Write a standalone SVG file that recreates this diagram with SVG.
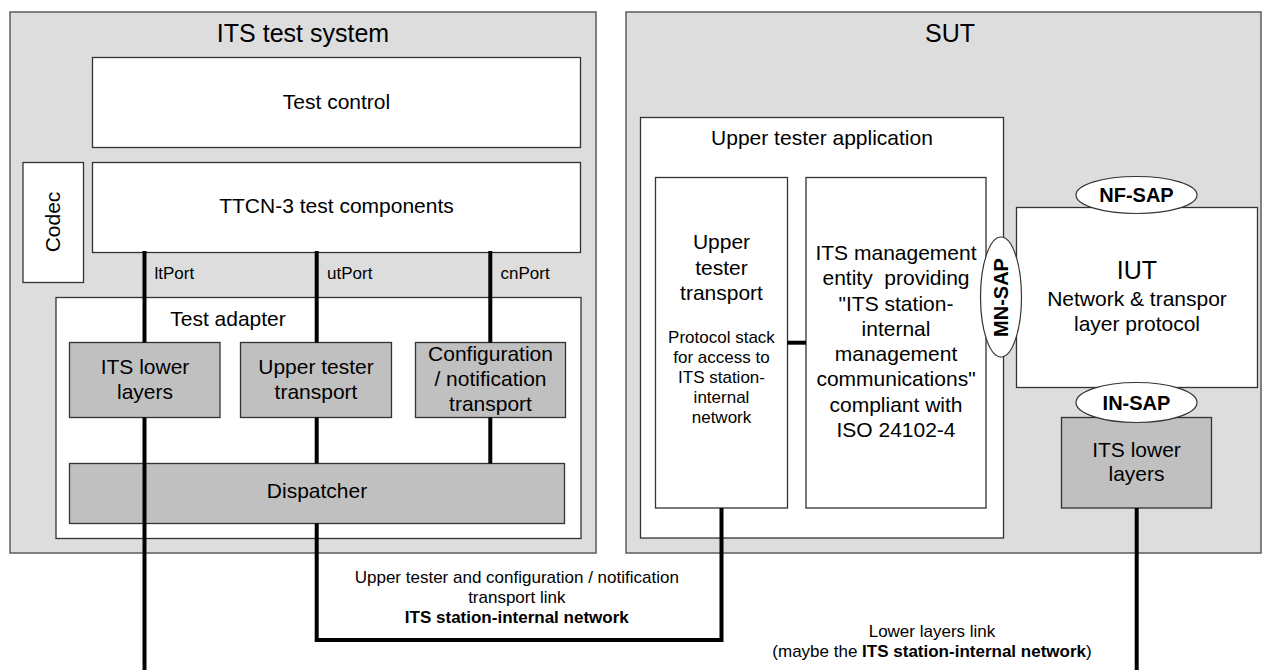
<svg xmlns="http://www.w3.org/2000/svg" width="1262" height="670" viewBox="0 0 1262 670">
<style>
text{font-family:"Liberation Sans",Arial,sans-serif;fill:#000}
.outer{fill:#dddddd;stroke:#666;stroke-width:1.6}
.white{fill:#fff;stroke:#333;stroke-width:1.3}
.grey{fill:#c0c0c0;stroke:#333;stroke-width:1.3}
.sap{fill:#fff;stroke:#333;stroke-width:1.2}
.c{text-anchor:middle}
.t25{font-size:25px}
.t21{font-size:21px}
.t17{font-size:17px}
.b{font-weight:bold}
.link{fill:none;stroke:#000;stroke-width:4;stroke-linecap:butt;stroke-linejoin:miter}
</style>
<rect width="1262" height="670" fill="#fff"/>

<g id="its-test-system">
<rect class="outer" x="10" y="12" width="586" height="541"/>
<text class="c t25" x="303" y="42">ITS test system</text>
</g>
<g id="sut">
<rect class="outer" x="626" y="12" width="635" height="541"/>
<text class="c t25" x="950" y="42">SUT</text>
</g>

<g id="test-control">
<rect class="white" x="92.5" y="57.5" width="488" height="90"/>
<text class="c t21" x="336.5" y="108.5">Test control</text>
</g>
<g id="ttcn3">
<rect class="white" x="92.5" y="162.5" width="488" height="90"/>
<text class="c t21" x="336.5" y="213">TTCN-3 test components</text>
</g>
<g id="codec">
<rect class="white" x="23" y="162.5" width="60.5" height="120"/>
<text class="c t21" transform="translate(60,222) rotate(-90)">Codec</text>
</g>
<g id="test-adapter">
<rect class="white" x="56" y="297.5" width="525" height="241"/>
<text class="c t21" x="228" y="326">Test adapter</text>
</g>
<g id="its-lower-layers-ts">
<rect class="grey" x="69.5" y="342.5" width="150.5" height="75"/>
<text class="c t21" x="145" y="374">ITS lower</text>
<text class="c t21" x="145" y="399">layers</text>
</g>
<g id="upper-tester-transport-ts">
<rect class="grey" x="240.5" y="342.5" width="151" height="75"/>
<text class="c t21" x="316" y="374">Upper tester</text>
<text class="c t21" x="316" y="399">transport</text>
</g>
<g id="config-notification-transport">
<rect class="grey" x="415.5" y="342.5" width="150" height="75"/>
<text class="c t21" x="490.5" y="361">Configuration</text>
<text class="c t21" x="490.5" y="386">/ notification</text>
<text class="c t21" x="490.5" y="411">transport</text>
</g>
<g id="dispatcher">
<rect class="grey" x="69.5" y="463.5" width="495" height="60"/>
<text class="c t21" x="317" y="498">Dispatcher</text>
</g>

<g id="upper-tester-application">
<rect class="white" x="640.5" y="117.5" width="363" height="420.5"/>
<text class="c t21" x="822" y="144.5">Upper tester application</text>
</g>
<g id="upper-tester-transport-sut">
<rect class="white" x="655.5" y="177.5" width="132" height="330.5"/>
<text class="c t21" x="721.5" y="249">Upper</text>
<text class="c t21" x="721.5" y="274.5">tester</text>
<text class="c t21" x="721.5" y="300">transport</text>
<text class="c t17" x="721.5" y="342.7">Protocol stack</text>
<text class="c t17" x="721.5" y="362.7">for access to</text>
<text class="c t17" x="721.5" y="382.7">ITS station-</text>
<text class="c t17" x="721.5" y="402.7">internal</text>
<text class="c t17" x="721.5" y="422.7">network</text>
</g>
<g id="its-management-entity">
<rect class="white" x="806" y="177.5" width="180" height="330.5"/>
<text class="c t21" x="896" y="260">ITS management</text>
<text class="c t21" x="896" y="285" style="white-space:pre">entity  providing</text>
<text class="c t21" x="896" y="310.5">"ITS station-</text>
<text class="c t21" x="896" y="335.7">internal</text>
<text class="c t21" x="896" y="360.7">management</text>
<text class="c t21" x="896" y="385.7">communications"</text>
<text class="c t21" x="896" y="411.5">compliant with</text>
<text class="c t21" x="896" y="436.7">ISO 24102-4</text>
</g>
<g id="iut">
<rect class="white" x="1016.5" y="207.5" width="241" height="180"/>
<text class="c t25" x="1137" y="279">IUT</text>
<text class="c t21" x="1137" y="305.7">Network &amp; transpor</text>
<text class="c t21" x="1137" y="331">layer protocol</text>
</g>
<g id="its-lower-layers-sut">
<rect class="grey" x="1061.5" y="417.5" width="150" height="90.5"/>
<text class="c t21" x="1136.5" y="457">ITS lower</text>
<text class="c t21" x="1136.5" y="481">layers</text>
</g>
<g id="nf-sap">
<ellipse class="sap" cx="1136.5" cy="195" rx="60.5" ry="18.5"/>
<text class="c b" font-size="20" x="1136.5" y="202">NF-SAP</text>
</g>
<g id="in-sap">
<ellipse class="sap" cx="1136.5" cy="402.5" rx="60.5" ry="20"/>
<text class="c b" font-size="20" x="1136.5" y="409.5">IN-SAP</text>
</g>
<g id="mn-sap">
<ellipse class="sap" cx="1001" cy="297" rx="20.5" ry="60"/>
<text class="c b" font-size="20" transform="translate(1008,297.5) rotate(-90)">MN-SAP</text>
</g>

<g id="connectors">
<line class="link" x1="144.5" y1="251" x2="144.5" y2="342.5"/>
<line class="link" x1="144.5" y1="417.5" x2="144.5" y2="670"/>
<line class="link" x1="316.7" y1="251" x2="316.7" y2="342.5"/>
<line class="link" x1="316.7" y1="417.5" x2="316.7" y2="463.5"/>
<polyline class="link" points="316.7,523.5 316.7,640 721.5,640 721.5,508"/>
<line class="link" x1="490.3" y1="251" x2="490.3" y2="342.5"/>
<line class="link" x1="490.3" y1="417.5" x2="490.3" y2="463.5"/>
<line class="link" x1="787.5" y1="342.7" x2="806" y2="342.7"/>
<line class="link" x1="1136.7" y1="508" x2="1136.7" y2="670"/>
</g>

<g id="port-labels">
<text class="t17" x="154.5" y="279.3">ltPort</text>
<text class="t17" x="327" y="279.3">utPort</text>
<text class="t17" x="500.5" y="279.3">cnPort</text>
</g>

<g id="link-labels">
<text class="c t17" x="516.8" y="582.7">Upper tester and configuration / notification</text>
<text class="c t17" x="516.8" y="602.7">transport link</text>
<text class="c t17 b" x="516.8" y="622.7">ITS station-internal network</text>
<text class="c t17" x="932" y="636.5">Lower layers link</text>
<text class="c t17" x="932" y="656.5">(maybe the <tspan class="b">ITS station-internal network</tspan>)</text>
</g>
</svg>
